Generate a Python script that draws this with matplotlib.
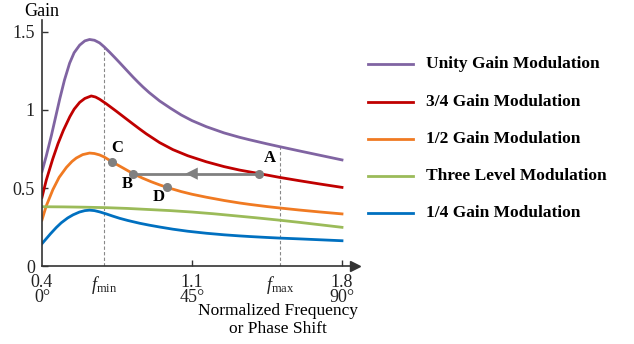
import numpy as np
import matplotlib
matplotlib.use('Agg')
from matplotlib import pyplot as plt
from matplotlib.lines import Line2D

plt.rcParams['font.family'] = ['Liberation Serif', 'DejaVu Serif']
plt.rcParams['mathtext.fontset'] = 'custom'
plt.rcParams['mathtext.rm'] = 'Liberation Serif'
plt.rcParams['mathtext.it'] = 'Liberation Serif:italic'

# Curve data (normalized frequency -> gain)
x_unity = [0.40, 0.42, 0.444, 0.465, 0.483, 0.505, 0.529, 0.55, 0.576, 0.60, 0.622, 0.645,
           0.669, 0.69, 0.716, 0.74, 0.762, 0.785, 0.81, 0.825, 0.85, 0.871, 0.90, 0.949,
           1.0, 1.05, 1.1, 1.167, 1.25, 1.322, 1.369, 1.45, 1.509, 1.6, 1.7, 1.8]
g_unity = [0.605, 0.705, 0.837, 0.963, 1.071, 1.192, 1.300, 1.367, 1.416, 1.443, 1.452, 1.447,
           1.430, 1.405, 1.370, 1.336, 1.304, 1.270, 1.233, 1.211, 1.176, 1.148, 1.112, 1.058,
           1.011, 0.968, 0.932, 0.893, 0.853, 0.825, 0.809, 0.783, 0.765, 0.738, 0.709, 0.680]

x_34 = [0.40, 0.42, 0.45, 0.475, 0.50, 0.53, 0.55, 0.576, 0.60, 0.63, 0.65, 0.669, 0.70,
        0.747, 0.785, 0.825, 0.856, 0.887, 0.949, 1.011, 1.08, 1.167, 1.25, 1.322, 1.415,
        1.509, 1.6, 1.7, 1.8]
g_34 = [0.44, 0.55, 0.685, 0.785, 0.87, 0.957, 1.005, 1.049, 1.074, 1.09, 1.083, 1.069, 1.04,
        0.992, 0.952, 0.91, 0.878, 0.847, 0.791, 0.746, 0.707, 0.668, 0.637, 0.615, 0.592,
        0.568, 0.547, 0.525, 0.504]

x_half = [0.40, 0.42, 0.451, 0.48, 0.514, 0.54, 0.56, 0.59, 0.622, 0.645, 0.669, 0.69,
          0.727, 0.78, 0.825, 0.87, 0.91, 0.949, 0.983, 1.05, 1.1, 1.167, 1.25, 1.322,
          1.369, 1.45, 1.509, 1.6, 1.7, 1.8]
g_half = [0.295, 0.385, 0.49, 0.568, 0.632, 0.67, 0.692, 0.714, 0.724, 0.721, 0.712, 0.699,
          0.668, 0.627, 0.592, 0.563, 0.54, 0.52, 0.504, 0.477, 0.46, 0.441, 0.42, 0.404,
          0.395, 0.381, 0.372, 0.359, 0.346, 0.334]

x_three = [0.4, 0.5, 0.6, 0.7, 0.8, 0.9, 1.0, 1.1, 1.2, 1.3, 1.4, 1.5, 1.6, 1.7, 1.8]
g_three = [0.38, 0.379, 0.377, 0.374, 0.369, 0.362, 0.355, 0.346, 0.335, 0.322, 0.309,
           0.295, 0.28, 0.264, 0.248]

x_quarter = [0.40, 0.42, 0.44, 0.467, 0.49, 0.52, 0.545, 0.575, 0.60, 0.622, 0.645, 0.669,
             0.70, 0.73, 0.762, 0.80, 0.856, 0.90, 0.949, 1.011, 1.08, 1.167, 1.25, 1.322,
             1.369, 1.45, 1.509, 1.6, 1.7, 1.8]
g_quarter = [0.143, 0.175, 0.207, 0.247, 0.277, 0.308, 0.328, 0.346, 0.355, 0.358, 0.355,
             0.347, 0.334, 0.32, 0.306, 0.292, 0.274, 0.262, 0.25, 0.236, 0.223, 0.21,
             0.2, 0.193, 0.189, 0.183, 0.179, 0.174, 0.168, 0.162]

labels = ['Unity Gain Modulation', '3/4 Gain Modulation', '1/2 Gain Modulation',
          'Three Level Modulation', '1/4 Gain Modulation']
colors = ['#8064A2', '#C00000', '#F07A22', '#9BBB59', '#0070C0']

# operating points
pt_names = ['A', 'B', 'C', 'D']
pt_x = [1.415, 0.825, 0.727, 0.983]
pt_y = [0.592, 0.592, 0.668, 0.504]
lbl_x = [1.465, 0.80, 0.75, 0.945]
lbl_y = [0.69, 0.525, 0.756, 0.44]

f_min, f_max = 0.69, 1.51
xticks = [0.4, 1.1, 1.8]
xticklabels = ['0.4\n0°', '1.1\n45°', '1.8\n90°']
yticks = [0, 0.5, 1, 1.5]
yticklabels = ['0', '0.5', '1', '1.5']

fig = plt.figure(figsize=(6.34, 3.44), dpi=100)
ax = fig.add_axes([0.0662, 0.2267, 0.4935, 0.7166])

series = [(x_unity, g_unity), (x_34, g_34), (x_half, g_half),
          (x_three, g_three), (x_quarter, g_quarter)]
for (xs, ys), c in zip(series, colors):
    ax.plot(xs, ys, color=c, lw=2.0, solid_joinstyle='round')

# dashed markers for fmin / fmax up to the top curve
for f in [f_min, f_max]:
    top = np.interp(f, x_unity, g_unity)
    ax.plot([f, f], [0, top], color='#888888', lw=0.8, ls=(0, (3, 2)), zorder=1)

# arrow from A to B
ax.plot([pt_x[0], pt_x[1]], [pt_y[0], pt_y[0]], color='#808080', lw=2, zorder=3)
ax.annotate('', xy=(1.07, pt_y[0]), xytext=(1.16, pt_y[0]),
            arrowprops=dict(arrowstyle='-|>', color='#808080', lw=0,
                            mutation_scale=22, shrinkA=0, shrinkB=0), zorder=3)
ax.plot(pt_x, pt_y, 'o', color='#808080', ms=5.5, zorder=4)
for n, lx, ly in zip(pt_names, lbl_x, lbl_y):
    ax.text(lx, ly, n, fontsize=12, fontweight='bold', ha='center', va='center')

ax.set_xlim(0.4, 1.86)
ax.set_ylim(0, 1.58)
ax.spines['top'].set_visible(False)
ax.spines['right'].set_visible(False)
for s in ['left', 'bottom']:
    ax.spines[s].set_color('#333333')
    ax.spines[s].set_linewidth(1.2)
ax.plot(1, 0, '>', color='#333333', ms=7, transform=ax.get_yaxis_transform(), clip_on=False)
ax.plot(0, 1, '^', color='#333333', ms=7, transform=ax.get_xaxis_transform(), clip_on=False)

ax.set_xticks(xticks + [f_min, f_max])
ax.set_xticklabels(xticklabels + [r'$f_{\mathrm{min}}$', r'$f_{\mathrm{max}}$'],
                   linespacing=0.8)
ax.set_yticks(yticks)
ax.set_yticklabels(yticklabels)
ax.tick_params(direction='in', length=4, width=1, colors='#333333', labelsize=13,
               labelcolor='#222222', pad=5)
ax.tick_params(axis='x', pad=6)
for t in ax.xaxis.get_major_ticks()[3:]:
    t.tick1line.set_visible(False)
ax.xaxis.get_major_ticks()[0].tick1line.set_visible(False)

fig.text(42 / 634, 1 - 11 / 344, 'Gain', fontsize=13, ha='center', va='center')
fig.text(278 / 634, 1 - 320 / 344, 'Normalized Frequency\nor Phase Shift', fontsize=12.5,
         ha='center', va='center', linespacing=1.1)

# legend drawn in figure pixels
rows_y = [64, 102, 139, 176, 213]
for lab, c, ry in zip(labels, colors, rows_y):
    yy = 1 - ry / 344
    fig.add_artist(Line2D([368 / 634, 413 / 634], [yy, yy], color=c, lw=2.0))
    fig.text(426 / 634, yy, lab, fontsize=12.5, fontweight='bold', ha='left', va='center')

fig.savefig('out.png', dpi=100)
